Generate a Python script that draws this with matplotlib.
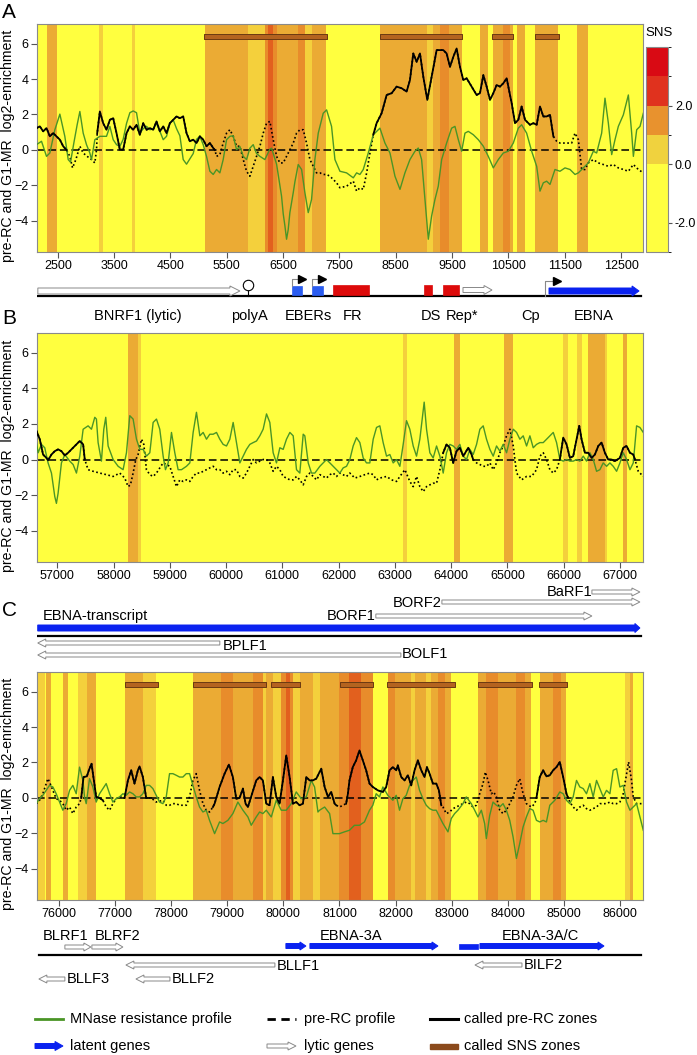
import numpy as np
import matplotlib
matplotlib.use('Agg')
import matplotlib.pyplot as plt
from matplotlib.patches import Polygon, Rectangle
from matplotlib.colors import ListedColormap, BoundaryNorm
from matplotlib.colorbar import Colorbar

plt.rcParams['font.family'] = ['Liberation Sans', 'DejaVu Sans']

# ---------------- data: panel A (2100 - 12900) ----------------
a_mn_pos = [2121, 2210, 2299, 2358, 2447, 2536, 2624, 2684, 2725, 2784, 2843, 2891, 2950, 3009, 3068, 3098,
            3157, 3246, 3305, 3364, 3424, 3483, 3542, 3601, 3660, 3720, 3779, 3838, 3897, 3956, 4016, 4075,
            4134, 4193, 4252, 4312, 4371, 4430, 4489, 4548, 4608, 4667, 4726, 4785, 4844, 4904, 4963, 5022,
            5081, 5140, 5200, 5259, 5318, 5377, 5436, 5496, 5555, 5614, 5673, 5732, 5792, 5851, 5910, 5969,
            6028, 6088, 6176, 6265, 6295, 6324, 6384, 6443, 6472, 6502, 6532, 6561, 6590, 6620, 6680, 6709,
            6768, 6828, 6887, 6946, 7005, 7064, 7124, 7212, 7272, 7360, 7420, 7509, 7627, 7746, 7805, 7864,
            7923, 8012, 8101, 8219, 8308, 8397, 8486, 8575, 8663, 8752, 8841, 8900, 8959, 9019, 9078, 9137,
            9196, 9255, 9315, 9403, 9492, 9551, 9611, 9670, 9729, 9788, 9877, 9966, 10055, 10143, 10232,
            10321, 10410, 10499, 10587, 10676, 10735, 10824, 10913, 11002, 11061, 11120, 11179, 11239, 11327,
            11416, 11505, 11594, 11683, 11742, 11831, 11919, 12008, 12067, 12156, 12215, 12275, 12334, 12393,
            12452, 12541, 12630, 12689, 12719, 12778, 12837, 12896]
a_mn_val = [0.30, 0.49, -0.36, -0.17, 1.14, 2.02, 0.77, -0.54, -0.69, 0.39, 1.42, 2.17, 0.95, 0.30, -0.17, -0.54,
            0.58, 0.77, 0.77, 0.77, 1.33, 0.58, 0.30, 0.20, 0.60, 1.50, 2.10, 2.20, 2.10, 0.95, 1.20, 1.33,
            1.14, 1.20, 1.50, 1.05, 0.58, 0.77, 1.50, 1.70, 1.20, 0.80, -0.54, -0.80, -0.50, -0.20, 0.60, 0.77,
            0.30, -0.36, -1.20, -1.38, -1.10, -1.29, -0.54, 0.58, 0.77, 0.80, 0.02, 0.20, -0.36, -0.54, 0.10, 0.30,
            -0.20, -0.36, -0.54, 0.05, 0.10, -0.20, -0.80, -2.00, -2.60, -3.60, -4.28, -5.03, -4.50, -3.53, -2.40, -1.80,
            -0.82, -1.10, -2.41, -3.53, -2.79, -0.54, 0.95, 2.07, 2.26, 1.33, -0.54, -1.20, -1.29, -1.57, -1.29, -1.38,
            -1.10, -0.17, 0.86, 1.23, 0.39, -0.17, -1.48, -2.22, -1.29, -0.54, -0.07, 0.11, -0.54, -2.79, -5.03, -3.72,
            -2.79, -2.04, -0.54, 0.39, 1.23, 1.33, 0.58, -0.07, 0.95, 1.05, 0.86, 0.58, 0.21, -0.36, -1.01,
            -0.54, -0.17, -0.07, 0.39, 1.23, 1.42, 0.95, -0.07, -0.92, -2.32, -1.85, -1.76, -1.94, -1.10,
            -1.20, -1.01, -1.10, -1.38, -1.29, -1.01, -0.73, -0.07, -0.17, 0.95, 2.92, 1.51, -0.26, 0.58,
            1.33, 1.98, 3.10, 0.95, -0.36, 1.14, 1.33, 2.07]

a_rc_pos = [2121, 2180, 2240, 2299, 2358, 2417, 2476, 2536, 2595, 2654,
            2713, 2761, 2820, 2891, 2950, 3021, 3098, 3157, 3187,
            3199, 3246, 3305, 3364, 3424, 3483, 3542, 3601, 3660, 3720, 3779, 3838, 3897, 3956, 4016, 4075,
            4134, 4193, 4252, 4312, 4371, 4430, 4489, 4548, 4608, 4667, 4726, 4785, 4844, 4904, 4963, 5022,
            5081, 5140, 5200, 5259, 5288,
            5318, 5377, 5436, 5496, 5555, 5614, 5673, 5732, 5792, 5851, 5910, 5969, 6028, 6088, 6147, 6206,
            6265, 6324, 6384, 6443, 6502, 6561, 6620, 6680, 6739, 6798, 6857, 6916, 6976, 7035, 7094, 7153,
            7212, 7272, 7331, 7390, 7449, 7509, 7627, 7746, 7805, 7864, 7923, 7983, 8042,
            8101, 8160, 8249, 8338, 8427, 8515, 8604, 8693, 8752, 8811, 8871, 8930, 8989, 9060, 9137, 9226,
            9285, 9344, 9403, 9463, 9522, 9581, 9640, 9699, 9759, 9847, 9936, 9995, 10055, 10114, 10173,
            10232, 10291, 10351, 10410, 10469, 10499, 10558, 10617, 10676, 10735, 10795, 10883, 10943, 11002,
            11061, 11120, 11179, 11239, 11298,
            11357, 11416, 11535, 11623, 11683, 11742, 11801, 11860, 11919, 12008, 12097, 12186, 12275, 12363,
            12452, 12541, 12630, 12719, 12807, 12896]
a_rc_val = [1.23, 1.33, 1.05, 1.23, 0.77, 0.95, 0.77, 0.58, 0.21, 0.00,
            -0.36, -1.01, -0.54, 0.21, -0.17, -0.36, -0.54, -0.73, 0.02,
            0.95, 2.17, 1.51, 1.14, 1.70, 1.79, 0.95, 0.02, 0.02, 0.95, 1.33, 1.14, 1.42, 0.86, 1.51, 1.14,
            1.23, 1.14, 1.61, 1.05, 1.33, 0.95, 1.51, 1.70, 1.89, 1.79, 1.89, 0.95, 0.49, 0.58, 0.39, 0.77,
            0.58, 0.21, 0.39, 0.11, 0.00,
            -0.36, -0.26, 0.39, 0.95, 1.14, 0.77, 0.21, 0.21, -0.54, -1.20, -1.48, -0.92, -0.36, 0.21, 0.95, 1.51,
            1.61, 0.58, -0.36, -0.73, -0.73, -0.36, 0.02, 0.39, 0.95, 1.14, 1.14, 0.39, -0.54, -0.92, -1.29, -1.29,
            -1.38, -1.38, -1.48, -1.66, -1.85, -2.13, -2.04, -1.76, -2.32, -2.13, -2.22, -1.29, -0.17,
            0.86, 1.51, 2.07, 3.10, 3.20, 3.57, 3.48, 3.29, 3.94, 5.44, 4.97, 5.44, 4.13, 2.82, 4.13, 5.63,
            5.63, 5.63, 5.44, 4.69, 5.25, 5.72, 4.69, 3.94, 4.04, 3.57, 3.10, 3.20, 4.22, 3.57, 2.82,
            3.20, 3.66, 3.57, 3.76, 4.04, 3.57, 2.64, 1.51, 1.70, 2.45, 1.70, 1.42, 1.51, 1.42,
            2.45, 1.89, 1.89, 1.98, 0.77,
            0.49, 0.39, 0.39, 0.39, 0.95, 0.58, -1.10, -1.10, -0.73, -0.54, -0.73, -0.82, -0.92, -0.82,
            -1.01, -1.10, -1.20, -0.82, -1.10, -1.29]
a_zones = [(2100, 2654), (3199, 5288), (8101, 11298)]

# SNS bands: (start, end, level) level 1=low .. 4=high
a_bands = [(2307, 2488, 2), (3228, 3300, 1), (3809, 3868, 1), (5111, 5880, 2), (5880, 6177, 1),
           (6177, 6236, 3), (6236, 6313, 4), (6313, 6384, 3), (6384, 6768, 2), (6768, 6887, 3),
           (6887, 7006, 1), (7006, 7260, 2), (8219, 9054, 2), (9054, 9161, 1), (9161, 9285, 2),
           (9285, 9445, 3), (9445, 9676, 2), (9995, 10137, 2), (10226, 10404, 2), (10404, 10528, 3),
           (10528, 10582, 2), (10653, 10795, 2), (10972, 11381, 2), (11718, 11914, 2)]
a_sns_start = [5093, 8219, 10209, 10972]
a_sns_end = [7278, 9676, 10582, 11399]

# ---------------- data: panel B (56640 - 67410) ----------------
b_mn_pos = [56630, 56660, 56719, 56778, 56837, 56897, 56956, 56985, 57015, 57074, 57134, 57222, 57282, 57341,
            57400, 57460, 57548, 57608, 57667, 57696, 57726, 57785, 57827, 57862, 57904, 57993, 58082, 58170,
            58230, 58289, 58348, 58408, 58467, 58526, 58585, 58645, 58704, 58763, 58822, 58882, 58923, 58971,
            59030, 59089, 59148, 59208, 59296, 59356, 59415, 59474, 59534, 59593, 59652, 59711, 59771, 59830,
            59889, 59948, 60008, 60067, 60126, 60185, 60245, 60304, 60363, 60422, 60482, 60541, 60600, 60659,
            60719, 60778, 60837, 60896, 60956, 61015, 61074, 61134, 61193, 61252, 61311, 61371, 61400, 61460,
            61519, 61578, 61667, 61726, 61785, 61845, 61904, 62022, 62081, 62141, 62200, 62259, 62318, 62378,
            62437, 62496, 62555, 62615, 62674, 62733, 62792, 62852, 62911, 62970, 63029, 63089, 63148, 63207,
            63266, 63326, 63385, 63444, 63521, 63563, 63622, 63681, 63741, 63800, 63859, 63918, 63978, 64037,
            64096, 64155, 64215, 64274, 64333, 64392, 64452, 64511, 64570, 64629, 64689, 64748, 64807, 64866,
            64926, 64985, 65044, 65104, 65163, 65222, 65281, 65341, 65400, 65459, 65518, 65578, 65637, 65696,
            65755, 65815, 65874, 65933, 65992, 66052, 66111, 66170, 66229, 66289, 66348, 66407, 66467, 66526,
            66585, 66644, 66703, 66763, 66822, 66881, 66941, 67000, 67059, 67118, 67178, 67237, 67296, 67355,
            67415]
b_mn_val = [0.95, 0.38, 0.85, 0.66, -0.19, -0.76, -2.08, -2.46, -1.89, -0.19, 0.28, -0.09, -0.28, -0.76,
            0.19, 1.70, 1.89, 1.70, 2.37, 2.27, 0.95, -0.09, 1.70, 2.37, 0.76, 0.00, -0.38, -0.57,
            0.38, 2.46, 2.27, 1.14, 0.57, 0.57, 0.19, 0.38, 2.08, 2.27, 1.70, 0.19, -0.57, -0.19,
            1.52, 0.38, -0.57, -0.57, -0.38, -0.19, 1.52, 2.65, 1.33, 1.52, 1.14, 1.42, 1.42, 1.52,
            1.14, 0.85, 0.76, 1.14, 2.08, 0.95, -0.19, 0.19, 0.57, 0.85, 0.95, 1.04, 1.33, 1.70,
            2.56, 2.08, 0.38, -0.19, 0.66, 0.57, 1.14, 1.52, 1.33, -0.57, -0.76, 1.42, 1.33, -0.19,
            -0.76, -0.76, -0.38, -0.19, 0.00, -0.19, -0.38, -0.76, -0.47, -0.38, 0.00, 0.76, 1.23, 0.95,
            0.09, -0.19, -0.19, 1.14, 1.80, 1.89, 0.95, 0.19, 0.28, -0.19, 0.00, -0.38, 0.85, 2.18,
            1.70, 0.76, 0.19, 1.14, 3.22, 1.70, 0.38, 0.09, 0.76, 0.19, -0.76, 0.38, 0.85, 0.76,
            0.57, 0.85, 0.19, 0.00, 0.57, 0.28, 0.85, 1.70, 1.89, 1.14, 0.57, 0.19, 0.76, 0.47,
            0.85, 0.38, 1.14, 1.70, 1.52, 1.14, 1.33, 0.76, 1.33, 0.66, 0.85, 0.95, 0.95, 1.14,
            1.33, 1.52, 0.95, 0.00, -0.09, 0.00, -0.09, -0.09, 0.00, -0.09, 0.19, -0.09, 0.38, 0.00,
            -0.66, -0.57, -0.19, -0.38, -0.19, -0.38, -0.66, -0.19, 0.38, 0.00, -0.57, -0.19, 1.89, 1.80,
            1.52]

b_rc_pos = [56630, 56689, 56748, 56808, 56837, 56897, 56956, 57015, 57074, 57134, 57193, 57252, 57311, 57400,
            57460, 57489, 57548, 57637, 57756, 57874, 57993, 58111, 58200, 58259, 58301, 58348, 58396, 58437,
            58497, 58538, 58585, 58645, 58704, 58763, 58822, 58882, 58941, 59000, 59060, 59119, 59178, 59237,
            59296, 59356, 59415, 59474, 59534, 59593, 59652, 59711, 59771, 59830, 59889, 59948, 60008, 60067,
            60126, 60185, 60245, 60304, 60363, 60422, 60482, 60541, 60600, 60659, 60719, 60778, 60837, 60896,
            60956, 61015, 61074, 61134, 61193, 61252, 61311, 61371, 61430, 61489, 61548, 61608, 61667, 61726,
            61785, 61845, 61904, 61963, 62023, 62141, 62200, 62289, 62378, 62466, 62555, 62615, 62674, 62733,
            62852, 62941, 63029, 63089, 63178, 63266, 63326, 63385, 63444, 63504, 63563, 63622, 63681, 63741,
            63800, 63859, 63918, 63978, 64037, 64096, 64155, 64215, 64304, 64363, 64392, 64452, 64511, 64570,
            64629, 64689, 64748, 64807, 64866, 64926, 64985, 65044, 65104, 65163, 65252, 65341, 65430, 65518,
            65578, 65637, 65696, 65755, 65815, 65874, 65933, 65992, 66052, 66111, 66170, 66229, 66277, 66318,
            66378, 66437, 66496, 66555, 66615, 66674, 66733, 66792, 66852, 66911, 67000, 67059, 67118, 67178,
            67237, 67267, 67326, 67385, 67415]
b_rc_val = [1.61, 1.14, 0.28, 0.09, -0.04, 0.28, 0.47, 0.57, 0.47, 0.23, 0.38, 0.57, 0.76, 1.04,
            0.85, 0.00, -0.57, -0.66, -0.76, -0.85, -0.95, -0.76, -1.04, -1.52, -1.42, -0.76, 0.00, 0.28,
            1.14, 0.85, -0.57, -0.85, -0.95, -0.76, -0.47, -0.19, -0.28, -0.38, -0.95, -1.52, -1.14, -1.23,
            -1.14, -1.23, -0.95, -0.76, -0.76, -0.66, -0.57, -0.47, -0.38, -0.57, -0.57, -0.76, -0.66, -0.85,
            -0.57, -0.57, -0.95, -1.04, -0.76, -0.38, 0.00, -0.19, -0.09, 0.00, 0.00, -0.19, -0.66, -0.38,
            -0.57, -0.95, -1.04, -1.14, -1.14, -0.95, -1.14, -1.42, -0.95, -0.76, -0.95, -1.14, -0.85, -0.95,
            -1.04, -0.85, -0.76, -0.95, -0.76, -0.95, -0.76, -1.04, -0.95, -0.85, -0.76, -0.85, -1.14, -1.04,
            -0.95, -1.14, -1.23, -0.95, -0.57, -1.23, -1.52, -0.95, -1.52, -1.80, -1.52, -1.42, -1.33, -1.33,
            -0.57, 0.38, 0.85, 0.66, -0.19, 0.47, 0.66, 0.19, 0.66, 0.28, 0.00, -0.19, -0.28, -0.38,
            -0.38, -0.19, -0.57, -0.19, 0.38, 0.76, 1.33, 1.70, 0.76, -0.76, -1.14, -0.95, -0.95, -0.57,
            0.19, 0.38, 0.00, -0.57, -0.76, -0.57, 0.00, 1.23, 0.85, 0.09, 0.19, 1.14, 1.89, 1.14,
            0.38, 0.38, 0.09, 0.28, 0.76, 0.95, 0.38, 0.00, 0.00, -0.09, 0.09, 0.66, 0.76, 0.38,
            0.28, 0.00, -0.66, -0.85, -0.95]
b_zones = [(56600, 57489), (63859, 64392), (65933, 67267)]

b_bands = [(58259, 58437, 2), (58437, 58497, 1), (63148, 63207, 1), (64055, 64155, 2), (64943, 65103, 2),
           (65980, 66081, 1), (66229, 66318, 1), (66437, 66733, 2), (66733, 66763, 1), (67059, 67130, 2)]

# ---------------- data: panel C (75610 - 86410) ----------------
c_mn_pos = [75596, 75655, 75714, 75774, 75833, 75893, 75952, 76012, 76071, 76130, 76190, 76249, 76309, 76368,
            76428, 76457, 76487, 76546, 76606, 76665, 76725, 76784, 76843, 76903, 76962, 77022, 77081, 77141,
            77200, 77259, 77319, 77378, 77438, 77497, 77556, 77616, 77675, 77735, 77794, 77854, 77913, 77972,
            78032, 78091, 78151, 78210, 78270, 78329, 78388, 78448, 78507, 78567, 78626, 78685, 78775, 78864,
            78923, 79012, 79101, 79190, 79280, 79369, 79428, 79517, 79577, 79636, 79696, 79785, 79874, 79963,
            80052, 80142, 80230, 80320, 80409, 80498, 80557, 80617, 80646, 80736, 80825, 80884, 80943, 81000,
            81089, 81179, 81268, 81357, 81446, 81536, 81595, 81655, 81714, 81774, 81863, 81952, 82012, 82071,
            82131, 82190, 82250, 82309, 82369, 82428, 82488, 82547, 82607, 82666, 82726, 82785, 82845, 82934,
            82993, 83053, 83112, 83202, 83261, 83350, 83410, 83469, 83529, 83588, 83618, 83678, 83737, 83797,
            83856, 83916, 83975, 84035, 84094, 84154, 84213, 84273, 84332, 84392, 84451, 84511, 84570, 84630,
            84689, 84749, 84838, 84927, 84987, 85046, 85106, 85165, 85225, 85284, 85344, 85403, 85463, 85522,
            85582, 85641, 85701, 85760, 85820, 85879, 85939, 85998, 86058, 86117, 86177, 86236, 86296, 86355,
            86415]
c_mn_val = [-0.32, -0.04, 0.15, 0.43, 0.71, 0.62, 0.24, -0.23, -0.69, -0.32, 0.43, 0.71, 0.24, 1.74,
            0.99, 0.06, -0.32, 1.09, 0.62, -0.23, 0.24, 0.53, 0.81, 0.24, -0.23, -0.04, 0.06, 0.24,
            0.15, 0.34, 0.24, 0.06, 0.06, 0.24, 0.71, 0.71, 0.53, 0.15, -0.23, -0.32, 0.06, 1.37,
            1.37, 1.28, 1.18, 1.18, 1.37, 1.37, 0.71, 0.06, -0.51, -0.79, -0.69, -1.26, -2.01, -1.35,
            -1.44, -1.26, -0.88, -0.23, -0.69, -1.07, -1.54, -1.07, -0.79, -0.88, -0.69, -1.07, -0.13, -0.69,
            -0.69, -0.32, 0.34, -0.04, 0.06, 0.99, 0.62, -0.79, -0.69, -0.51, -0.88, -2.01, -2.01, -2.01,
            -1.91, -1.82, -1.54, -1.54, -1.35, -0.69, -0.41, 0.24, 0.06, 0.62, 0.15, -0.13, 0.15, -0.69,
            -0.04, 0.15, 0.71, 0.99, 1.18, 0.43, -0.04, -0.41, -0.60, -0.69, -0.69, -1.07, -1.44, -1.91,
            -1.16, -0.88, -0.69, -0.32, 0.06, -0.32, -0.69, -1.07, -0.69, -1.44, -2.29, -0.98, -0.23, -0.41,
            -0.51, -0.32, -0.69, -1.26, -2.19, -3.41, -2.57, -1.63, -1.07, -0.60, -0.69, -1.26, -1.35, -1.26,
            -1.35, -0.41, -0.13, 0.34, 0.24, -0.13, -0.32, 0.06, 0.99, 0.62, 0.53, 0.24, 0.81, 0.06,
            0.99, 0.53, 0.06, 0.43, 0.24, 1.56, 1.65, 0.62, 0.71, -0.23, -0.69, -0.51, -0.32, -1.07,
            -1.82]

c_rc_pos = [75596, 75655, 75714, 75774, 75804, 75833, 75893, 75952, 76012, 76071, 76130, 76190, 76249, 76309,
            76368, 76398, 76439, 76499, 76534, 76582, 76624, 76665, 76725, 76784, 76843, 76903, 76962, 77022,
            77081, 77141, 77170, 77230, 77289, 77348, 77408, 77438, 77497, 77556, 77616, 77646, 77735, 77854,
            77913, 77972, 78032, 78091, 78151, 78210, 78270, 78329, 78388, 78448, 78507, 78567, 78626, 78685,
            78745, 78775, 78864, 78953, 79030, 79101, 79161, 79220, 79280, 79327, 79369, 79517, 79577, 79636,
            79696, 79755, 79814, 79874, 79933, 79993, 80052, 80112, 80171, 80230, 80290, 80349, 80409, 80468,
            80527, 80587, 80676, 80736, 80795, 80854, 80914, 80943, 81003, 81060, 81119, 81149, 81179, 81238,
            81298, 81357, 81417, 81476, 81536, 81595, 81684, 81774, 81833, 81893, 81952, 82012, 82041, 82101,
            82160, 82220, 82279, 82339, 82398, 82458, 82517, 82559, 82607, 82666, 82726, 82773, 82815, 82845,
            82904, 82964, 83023, 83083, 83142, 83202, 83261, 83321, 83380, 83440, 83499, 83559, 83600, 83648,
            83707, 83749, 83797, 83856, 83916, 83975, 84035, 84094, 84154, 84213, 84273, 84332, 84421, 84481,
            84511, 84570, 84630, 84689, 84749, 84808, 84868, 84927, 84987, 85046, 85076, 85106, 85165, 85225,
            85284, 85344, 85403, 85463, 85522, 85582, 85641, 85701, 85760, 85820, 85879, 85939, 85998, 86058,
            86117, 86153, 86206, 86236, 86296, 86355, 86415]
c_rc_val = [-0.32, -0.13, 0.24, 0.81, 1.09, 0.90, 0.43, -0.04, -0.13, -0.32, -0.69, -0.51, -0.88, -0.51,
            -0.32, 0.00, 1.18, 1.22, 1.56, 1.93, 0.99, 0.06, 0.00, -0.13, -0.51, -0.69, -0.32, -0.04,
            0.06, 0.06, 0.00, 0.99, 1.56, 0.81, 1.56, 1.78, 1.18, 0.00, 0.00, 0.00, -0.23, -0.13,
            -0.41, -0.41, -0.32, -0.32, -0.41, -0.41, -0.41, 0.06, 0.99, 1.37, 0.43, -0.32, -0.69, -0.79,
            -0.51, -0.32, 0.62, 1.37, 1.88, 1.18, -0.04, 0.00, 0.53, -0.32, -0.51, 0.99, 1.18, 0.99,
            -0.32, -0.41, 1.18, 0.06, -0.32, 0.99, 2.40, 1.18, -0.32, -0.23, -0.41, -0.32, 1.18, 0.99,
            0.99, 1.09, 1.65, 0.62, 0.06, 0.34, -0.32, -0.41, -0.51, -0.41, -0.32, 0.20, 0.99, 1.74,
            2.12, 2.68, 2.12, 1.56, 0.81, 0.62, 0.43, 0.34, 0.62, 1.56, 1.74, 1.56, 1.84, 1.18,
            0.99, 1.28, 0.71, 1.56, 2.12, 1.56, 1.18, 1.74, 1.37, 0.81, 0.81, 0.43, -0.41, -0.51,
            -0.88, -0.79, -0.60, -0.51, -0.41, -0.32, -0.23, -0.32, -0.51, -0.41, 0.24, 0.81, 1.46, 0.99,
            0.24, 0.34, 0.06, -0.69, -0.88, -0.69, -0.32, 0.06, 0.71, 1.09, 0.24, -0.32, -0.51, -0.32,
            0.00, 1.18, 1.56, 1.22, 1.28, 1.56, 1.74, 2.03, 1.18, 0.24, 0.00, -0.23, -0.51, -0.69,
            -0.51, -0.41, -0.60, -0.69, -0.60, -0.51, -0.32, -0.32, -0.32, -0.23, -0.32, -0.32, -0.23, 0.24,
            1.37, 2.03, 0.99, 0.06, -0.32, -0.32, -0.32]
c_zones = [(76398, 76784), (77170, 77646), (78745, 80943), (81119, 82815), (84511, 85076)]

c_bands = [(75596, 75744, 1), (75774, 75863, 2), (76071, 76160, 2), (76339, 76499, 1), (76499, 76665, 2),
           (77170, 77497, 2), (77497, 77735, 1), (78388, 78894, 2), (78894, 79101, 3), (79101, 79458, 2),
           (79458, 79636, 3), (79636, 79696, 1), (79696, 79814, 2), (79814, 79963, 1), (79963, 80040, 3),
           (80040, 80124, 4), (80124, 80171, 3), (80171, 80290, 1), (80290, 80527, 2), (80527, 80646, 1),
           (80646, 81000, 2), (81000, 81179, 3), (81179, 81387, 4), (81387, 81595, 3), (81863, 81982, 3),
           (81982, 82279, 2), (82279, 82339, 1), (82339, 82547, 2), (82547, 82636, 1), (82636, 82755, 2),
           (82755, 82874, 3), (82874, 82993, 2), (83469, 83618, 2), (83618, 83826, 3), (83826, 84154, 2),
           (84154, 84302, 3), (84302, 84421, 2), (84570, 84808, 2), (84808, 84957, 3), (84957, 85046, 2),
           (86087, 86177, 1), (86177, 86236, 2)]
c_sns_start = [77170, 78388, 79785, 81003, 81845, 83469, 84558]
c_sns_end = [77765, 79695, 80290, 81595, 83053, 84439, 85064]

# colour scale
band_colors = ['#ffff3f', '#f4d03c', '#ebab34', '#e88c2b', '#e2601e']
cbar_colors = ['#ffff40', '#f0d23e', '#e8922e', '#e0321e', '#d90a14']
cbar_bounds = [-3, 0, 1, 2, 3, 4]

green = '#4a9526'
blue = '#0a22f0'
red = '#dd0a0a'
brown = '#b4631f'

W, H = 697, 1055
fig = plt.figure(figsize=(W / 100, H / 100), dpi=100)


def px_axes(x0, y0, x1, y1):
    return fig.add_axes([x0 / W, 1 - y1 / H, (x1 - x0) / W, (y1 - y0) / H])


def draw_panel(ax, xlim, xticks, bands, mn_pos, mn_val, rc_pos, rc_val, zones, sns_start, sns_end):
    ax.set_facecolor(band_colors[0])
    for s, e, lev in bands:
        ax.axvspan(s, e, color=band_colors[lev], lw=0, zorder=0)
    if sns_start:
        ax.broken_barh([(s, e - s) for s, e in zip(sns_start, sns_end)], (6.23, 0.3),
                       facecolor=brown, edgecolor='#6b3a12', lw=0.7, zorder=2)
    ax.axhline(0, color='black', lw=1.1, ls=(0, (5, 2.5)), zorder=2)
    rc_pos = np.asarray(rc_pos, float)
    rc_val = np.asarray(rc_val, float)
    ax.plot(rc_pos, rc_val, ls=(0, (1, 1.5)), color='black', lw=1.2, zorder=3)
    ax.plot(mn_pos, mn_val, color=green, lw=1.0, zorder=4)
    inside = np.zeros(len(rc_pos), bool)
    for s, e in zones:
        inside |= (rc_pos >= s) & (rc_pos <= e)
    ax.plot(rc_pos, np.where(inside, rc_val, np.nan), color='black', lw=1.3, zorder=5)

    ax.set_xlim(*xlim)
    ax.set_ylim(-5.75, 7.1)
    ax.set_xticks(xticks)
    ax.set_xticklabels([str(t) for t in xticks])
    ax.set_yticks([-4, -2, 0, 2, 4, 6])
    ax.tick_params(labelsize=9, length=4, width=0.8, color='#555555', pad=2)
    for sp in ax.spines.values():
        sp.set_color('#8a8a8a')
        sp.set_linewidth(0.8)
    ax.set_ylabel('pre-RC and G1-MR  log2-enrichment', fontsize=10.2)
    ax.yaxis.set_label_coords(-22 / 606, 0.465)


def track_axes(y0, y1, xlim):
    t = px_axes(37, y0, 643, y1)
    t.set_xlim(*xlim)
    t.set_ylim(y1, y0)
    t.axis('off')
    return t


def gene_arrow(ax, x0, x1, y, body, head, hlen, fc, ec, left=False, lw=0.7):
    k = (ax.get_xlim()[1] - ax.get_xlim()[0]) / 606.0
    hl = hlen * k
    if not left:
        pts = [(x0, y - body / 2), (x1 - hl, y - body / 2), (x1 - hl, y - head / 2), (x1, y),
               (x1 - hl, y + head / 2), (x1 - hl, y + body / 2), (x0, y + body / 2)]
    else:
        pts = [(x1, y - body / 2), (x0 + hl, y - body / 2), (x0 + hl, y - head / 2), (x0, y),
               (x0 + hl, y + head / 2), (x0 + hl, y + body / 2), (x1, y + body / 2)]
    ax.add_patch(Polygon(pts, closed=True, fc=fc, ec=ec, lw=lw, zorder=3))


def promoter(ax, x, yb, yt, length):
    k = (ax.get_xlim()[1] - ax.get_xlim()[0]) / 606.0
    ax.plot([x, x, x + length * k], [yb, yt, yt], color='#888888', lw=0.8, zorder=4)
    ax.plot(x + length * k, yt, marker='>', color='black', ms=6, zorder=5)


lytic = dict(fc='white', ec='#888888')
latent = dict(fc=blue, ec=blue)

# ---------------- panel A ----------------
axA = px_axes(37, 24, 643, 252)
draw_panel(axA, (2130, 12890), list(range(2500, 13000, 1000)), a_bands, a_mn_pos, a_mn_val,
           a_rc_pos, a_rc_val, a_zones, a_sns_start, a_sns_end)

cax = px_axes(646, 47, 668, 252)
cb = Colorbar(cax, cmap=ListedColormap(cbar_colors), norm=BoundaryNorm(cbar_bounds, len(cbar_colors)),
              ticks=[-2, 0, 2], spacing='proportional')
cb.set_ticklabels(['-2.0', '0.0', '2.0'])
cb.outline.set_edgecolor('#8a8a8a')
cb.outline.set_linewidth(0.8)
cax.tick_params(labelsize=9, length=3, width=0.8, color='#555555', pad=2)
fig.text(645 / W, 1 - 33 / H, 'SNS', fontsize=9.5, va='center', ha='left')

# gene track A
tA = track_axes(272, 330, axA.get_xlim())
tA.plot([2145, 12855], [296, 296], color='black', lw=1.6, zorder=2)
gene_arrow(tA, 2145, 5733, 291, 6, 10, 10, **lytic)
gene_arrow(tA, 9694, 10209, 290, 5, 9, 8, **lytic)
gene_arrow(tA, 11221, 12820, 291, 6, 10, 7, **latent)
for s, e in [(6656, 6834), (7011, 7207)]:
    tA.add_patch(Rectangle((s, 286), e - s, 9, fc='#2a5cf0', ec='#2a5cf0', lw=0.5, zorder=3))
    promoter(tA, s, 286, 279, 10)
for s, e in [(7385, 8024), (9001, 9143), (9338, 9622)]:
    tA.add_patch(Rectangle((s, 285), e - s, 10, fc=red, ec=red, lw=0.5, zorder=3))
promoter(tA, 11150, 296, 281, 12)
tA.plot([5875, 5875], [289, 296], color='black', lw=0.8, zorder=3)
tA.plot(5875, 284.5, marker='o', ms=7.5, mfc='white', mec='black', mew=0.8, zorder=4)
a_gene_labels = ['BNRF1 (lytic)', 'polyA', 'EBERs', 'FR', 'DS', 'Rep*', 'Cp', 'EBNA']
a_label_x = [3921, 5910, 6940, 7740, 9125, 9676, 10901, 12020]
for name, x in zip(a_gene_labels, a_label_x):
    tA.text(x, 316, name, fontsize=10.5, ha='center', va='center')

# ---------------- panel B ----------------
axB = px_axes(37, 333, 643, 562)
draw_panel(axB, (56640, 67410), list(range(57000, 67001, 1000)), b_bands, b_mn_pos, b_mn_val,
           b_rc_pos, b_rc_val, b_zones, [], [])

tB = track_axes(582, 666, axB.get_xlim())
gene_arrow(tB, 66502, 67355, 592, 4, 8, 8, **lytic)
gene_arrow(tB, 63836, 67355, 602, 4, 8, 8, **lytic)
gene_arrow(tB, 62662, 66502, 616, 4, 8, 8, **lytic)
gene_arrow(tB, 56653, 67355, 628, 6, 9, 5, **latent)
tB.plot([56653, 67373], [636, 636], color='black', lw=1.6, zorder=2)
gene_arrow(tB, 56653, 59889, 643, 4, 8, 8, left=True, **lytic)
gene_arrow(tB, 56653, 63107, 655, 4, 8, 8, left=True, **lytic)
tB.text(66502, 592, 'BaRF1', fontsize=10.5, ha='right', va='center')
tB.text(63836, 603, 'BORF2', fontsize=10.5, ha='right', va='center')
tB.text(62662, 616, 'BORF1', fontsize=10.5, ha='right', va='center')
tB.text(56742, 616, 'EBNA-transcript', fontsize=10.5, ha='left', va='center')
tB.text(59942, 646, 'BPLF1', fontsize=10.5, ha='left', va='center')
tB.text(63124, 654, 'BOLF1', fontsize=10.5, ha='left', va='center')

# ---------------- panel C ----------------
axC = px_axes(37, 672, 643, 900)
draw_panel(axC, (75610, 86410), list(range(76000, 86001, 1000)), c_bands, c_mn_pos, c_mn_val,
           c_rc_pos, c_rc_val, c_zones, c_sns_start, c_sns_end)

tC = track_axes(922, 992, axC.get_xlim())
tC.plot([75643, 86374], [955, 955], color='black', lw=1.6, zorder=2)
gene_arrow(tC, 76107, 76570, 947, 4, 8, 7, **lytic)
gene_arrow(tC, 76588, 77141, 947, 4, 8, 7, **lytic)
gene_arrow(tC, 80046, 80403, 946, 5, 8, 6, **latent)
gene_arrow(tC, 80474, 82756, 946, 5, 8, 6, **latent)
tC.add_patch(Rectangle((83130, 943.5), 83469 - 83130, 5, fc=blue, ec=blue, lw=0.5, zorder=3))
gene_arrow(tC, 83504, 85715, 946, 5, 8, 6, **latent)
gene_arrow(tC, 77194, 79850, 965, 4, 8, 8, left=True, **lytic)
gene_arrow(tC, 83415, 84253, 965, 4, 8, 8, left=True, **lytic)
gene_arrow(tC, 75643, 76107, 979, 4, 8, 8, left=True, **lytic)
gene_arrow(tC, 77373, 77979, 979, 4, 8, 8, left=True, **lytic)
for name, x in [('BLRF1', 76125), ('BLRF2', 77052), ('EBNA-3A', 81205), ('EBNA-3A/C', 84574)]:
    tC.text(x, 936, name, fontsize=10.5, ha='center', va='center')
for name, x, y in [('BLLF1', 79886, 966), ('BILF2', 84289, 965), ('BLLF3', 76143, 979), ('BLLF2', 78014, 979)]:
    tC.text(x, y, name, fontsize=10.5, ha='left', va='center')

# panel letters
for letter, y in [('A', 12), ('B', 319), ('C', 611)]:
    fig.text(2 / W, 1 - y / H, letter, fontsize=15, ha='left', va='center')

# ---------------- legend ----------------
lax = px_axes(0, 995, W, H)
lax.set_xlim(0, W)
lax.set_ylim(H, 995)
lax.axis('off')
lax.plot([35, 63], [1019, 1019], color=green, lw=2)
lax.plot([267, 296], [1019, 1019], color='black', lw=2, ls=(0, (3, 2)))
lax.plot([430, 458], [1019, 1019], color='black', lw=2.2)
gene_arrow(lax, 35, 63, 1046, 5, 9, 8 * 606 / W, **latent)
gene_arrow(lax, 267, 296, 1046, 4, 8, 8 * 606 / W, **lytic)
lax.add_patch(Rectangle((430, 1043.5), 28, 5, fc='#8b4a1c', ec='#8b4a1c'))
for x, y, s in [(70, 1019, 'MNase resistance profile'), (304, 1019, 'pre-RC profile'),
                (464, 1019, 'called pre-RC zones'), (70, 1046, 'latent genes'),
                (304, 1046, 'lytic genes'), (464, 1046, 'called SNS zones')]:
    lax.text(x, y, s, fontsize=10.5, ha='left', va='center')

fig.savefig('out.png', dpi=100)
